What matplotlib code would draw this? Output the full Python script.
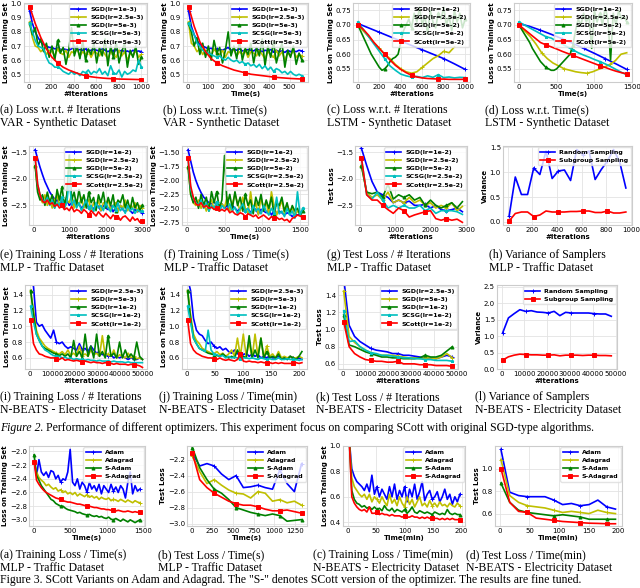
import matplotlib

matplotlib.use("Agg")
import matplotlib.pyplot as plt
import numpy as np

W, H = 640, 588

# ---- Figure 2, row 1: VAR / LSTM synthetic ----
A_SGD1 = [0.95, 0.86, 0.80, 0.76, 0.73, 0.71, 0.70, 0.69, 0.69, 0.68, 0.685, 0.67, 0.68, 0.675, 0.67, 0.68, 0.70, 0.67, 0.675, 0.67, 0.68,
          0.665, 0.67, 0.675, 0.67, 0.665, 0.68, 0.67, 0.66, 0.67, 0.665, 0.675, 0.66, 0.67, 0.66, 0.665, 0.655, 0.67, 0.66, 0.665, 0.66]
A_SGD2 = [0.87, 0.76, 0.70, 0.69, 0.66, 0.68, 0.64, 0.67, 0.66, 0.63, 0.68, 0.65, 0.64, 0.67, 0.62, 0.66, 0.65, 0.68, 0.63, 0.66, 0.64,
          0.67, 0.62, 0.66, 0.65, 0.63, 0.67, 0.64, 0.61, 0.66, 0.64, 0.62, 0.67, 0.63, 0.66, 0.60, 0.65, 0.63, 0.67, 0.62, 0.64]
A_SGD3 = [0.86, 0.78, 0.83, 0.70, 0.75, 0.66, 0.72, 0.62, 0.70, 0.60, 0.74, 0.65, 0.69, 0.57, 0.67, 0.83, 0.63, 0.70, 0.61, 0.74, 0.60,
          0.68, 0.64, 0.72, 0.58, 0.69, 0.63, 0.75, 0.56, 0.70, 0.62, 0.73, 0.58, 0.66, 0.72, 0.55, 0.67, 0.62, 0.70, 0.57, 0.62]
A_SCSG = [0.86, 0.80, 0.74, 0.70, 0.69, 0.68, 0.62, 0.58, 0.57, 0.55, 0.55, 0.54, 0.52, 0.51, 0.50, 0.52, 0.50, 0.51, 0.49, 0.52, 0.51,
          0.53, 0.50, 0.52, 0.51, 0.54, 0.50, 0.52, 0.49, 0.56, 0.51, 0.50, 0.53, 0.48, 0.52, 0.50, 0.51, 0.53, 0.52, 0.60, 0.55]
A_SCOTT = [0.98, 0.86, 0.76, 0.68, 0.62, 0.58, 0.55, 0.53, 0.515, 0.50, 0.49, 0.482, 0.477, 0.473, 0.47, 0.468, 0.466, 0.465, 0.464,
           0.463, 0.462]

B_SGD1 = [0.95, 0.84, 0.78, 0.74, 0.71, 0.70, 0.69, 0.68, 0.685, 0.67, 0.68, 0.675, 0.67, 0.68, 0.69, 0.67, 0.675, 0.67, 0.68, 0.665,
          0.67, 0.675, 0.67, 0.665, 0.68, 0.67, 0.66, 0.67, 0.665, 0.675, 0.66, 0.67, 0.66, 0.665, 0.655, 0.67, 0.66, 0.665, 0.66, 0.67, 0.665]
B_SGD2 = [0.87, 0.72, 0.70, 0.66, 0.68, 0.64, 0.67, 0.65, 0.63, 0.68, 0.65, 0.64, 0.67, 0.62, 0.66, 0.65, 0.68, 0.63, 0.66, 0.64, 0.67,
          0.62, 0.66, 0.65, 0.63, 0.67, 0.64, 0.61, 0.66, 0.64, 0.62, 0.67, 0.63, 0.66, 0.60, 0.65, 0.63, 0.67, 0.62, 0.64, 0.63]
B_SGD3 = [0.86, 0.80, 0.70, 0.76, 0.64, 0.72, 0.62, 0.70, 0.60, 0.74, 0.65, 0.69, 0.58, 0.67, 0.80, 0.63, 0.70, 0.61, 0.74, 0.60, 0.68,
          0.64, 0.72, 0.58, 0.69, 0.63, 0.75, 0.56, 0.70, 0.62, 0.73, 0.58, 0.66, 0.72, 0.55, 0.67, 0.62, 0.70, 0.57, 0.65, 0.60]
B_SCSG = [0.86, 0.82, 0.78, 0.72, 0.70, 0.67, 0.66, 0.65, 0.64, 0.63, 0.62, 0.63, 0.61, 0.60, 0.62, 0.60, 0.59, 0.60, 0.58, 0.59, 0.57,
          0.58, 0.56, 0.57, 0.55, 0.57, 0.54, 0.56, 0.53, 0.55, 0.52, 0.54, 0.53, 0.51, 0.52, 0.50, 0.52, 0.50, 0.49, 0.50, 0.49]
B_SCOTT = [0.98, 0.84, 0.73, 0.66, 0.61, 0.58, 0.56, 0.545, 0.53, 0.52, 0.51, 0.50, 0.495, 0.49, 0.485, 0.48, 0.476, 0.473, 0.47,
           0.468, 0.466]

C_SGD1 = [0.705, 0.69, 0.675, 0.66, 0.645, 0.63, 0.615, 0.60, 0.585, 0.567, 0.548]
C_SGD2 = [0.70, 0.68, 0.66, 0.64, 0.62, 0.60, 0.585, 0.565, 0.55, 0.54, 0.535, 0.54, 0.555, 0.57, 0.585, 0.595, 0.61, 0.605, 0.625]
C_SGD3 = [0.70, 0.68, 0.66, 0.64, 0.62, 0.60, 0.585, 0.57, 0.555, 0.545, 0.55, 0.56, 0.575, 0.585, 0.59, 0.60, 0.64, 0.68, 0.70, 0.72,
          0.69, 0.74, 0.71, 0.76, 0.70, 0.73, 0.67, 0.75, 0.71, 0.69, 0.74, 0.72, 0.76, 0.70, 0.73, 0.68, 0.75, 0.71, 0.74, 0.69, 0.72]
C_SCSG = [0.71, 0.685, 0.66, 0.635, 0.61, 0.585, 0.56, 0.545, 0.532, 0.526, 0.522, 0.524, 0.52, 0.526, 0.521, 0.53, 0.52, 0.522,
          0.519, 0.521, 0.52]
C_SCOTT = [0.70, 0.685, 0.665, 0.64, 0.62, 0.60, 0.58, 0.562, 0.548, 0.537, 0.528, 0.522, 0.519, 0.517, 0.516, 0.515, 0.515, 0.514,
           0.514, 0.514, 0.514]

D_SGD1 = [0.705, 0.695, 0.682, 0.668, 0.653, 0.637, 0.62, 0.603, 0.585, 0.567, 0.548]
D_SGD2 = [0.70, 0.68, 0.66, 0.635, 0.605, 0.585, 0.57, 0.56, 0.55, 0.545, 0.54, 0.537, 0.535, 0.54, 0.548, 0.555, 0.565, 0.578, 0.60,
          0.605]
D_SGD3 = [0.70, 0.685, 0.67, 0.655, 0.64, 0.62, 0.605, 0.59, 0.575, 0.565, 0.555, 0.55, 0.545, 0.545, 0.55, 0.56, 0.57, 0.58, 0.59,
          0.60, 0.63, 0.68, 0.72, 0.70, 0.74, 0.71, 0.73, 0.62, 0.75, 0.71, 0.74, 0.70, 0.76, 0.72, 0.58, 0.74, 0.70, 0.75, 0.72, 0.73, 0.71]
D_SCSG = [0.71, 0.70, 0.69, 0.68, 0.67, 0.66, 0.655, 0.645, 0.635, 0.625, 0.615, 0.605, 0.597, 0.59, 0.582, 0.575, 0.567, 0.558,
          0.548, 0.538, 0.53]
D_SCOTT = [0.70, 0.685, 0.67, 0.655, 0.64, 0.632, 0.625, 0.618, 0.61, 0.603, 0.596, 0.589, 0.582, 0.575, 0.568, 0.561, 0.555, 0.548,
           0.542, 0.537, 0.533]

# ---- Figure 2, row 2: MLP traffic ----
E_SGD1 = [-1.45, -1.62, -1.78, -1.92, -2.05, -2.15, -2.25, -2.32, -2.38, -2.42, -2.35, -2.45, -2.48, -2.4, -2.5, -2.45, -2.52, -2.42,
          -2.48, -2.55, -2.5, -2.45, -2.55, -2.5, -2.58, -2.48, -2.52, -2.6, -2.5, -2.55, -2.58, -2.5, -2.62, -2.55, -2.6, -2.5, -2.58,
          -2.62, -2.55, -2.6, -2.65, -2.58, -2.62, -2.6, -2.65]
E_SGD2 = [-1.75, -2.2, -2.35, -2.45, -2.3, -2.5, -2.38, -2.55, -2.4, -2.3, -2.5, -2.35, -2.55, -2.4, -2.45, -2.3, -2.55, -2.4, -2.5,
          -2.35, -2.55, -2.45, -2.4, -2.6, -2.45, -2.55, -2.4, -2.6, -2.45, -2.5, -2.38, -2.6, -2.5, -2.45, -2.62, -2.5, -2.55, -2.4,
          -2.6, -2.5, -2.55, -2.45, -2.62, -2.5, -2.55]
E_SGD3 = [-1.75, -2.25, -2.4, -2.3, -2.5, -2.25, -2.45, -2.3, -2.55, -2.2, -2.4, -2.15, -2.5, -2.3, -1.55, -2.4, -2.25, -2.5, -2.2,
          -2.45, -2.3, -2.55, -2.25, -2.45, -2.35, -2.6, -2.3, -2.45, -2.25, -2.55, -2.35, -2.5, -2.3, -2.6, -2.4, -2.45, -2.3, -2.55,
          -2.4, -2.6, -2.35, -2.55, -2.45, -2.6, -2.5]
E_SCSG = [-1.6, -2.1, -2.3, -2.4, -2.45, -2.35, -2.5, -2.4, -2.55, -2.45, -2.5, -2.35, -2.55, -2.45, -2.0, -2.5, -2.4, -2.55, -2.45,
          -2.6, -2.5, -2.4, -2.55, -2.5, -2.62, -2.45, -2.55, -2.5, -2.6, -2.45, -2.55, -2.62, -2.5, -2.58, -2.45, -2.6, -2.55, -2.65,
          -2.5, -2.6, -2.55, -2.65, -2.58, -2.62, -2.6]
E_SCOTT = [-1.6, -2.1, -2.3, -2.42, -2.45, -2.4, -2.48, -2.45, -2.52, -2.48, -2.55, -2.5, -2.58, -2.55, -2.6, -2.52, -2.62, -2.58,
           -2.6, -2.65, -2.58, -2.62, -2.68, -2.6, -2.65, -2.7, -2.62, -2.68, -2.72, -2.65, -2.7, -2.75, -2.68, -2.72, -2.7, -2.78,
           -2.72, -2.7, -2.75, -2.8, -2.72, -2.78, -2.75, -2.82, -2.8]

F_SGD1 = [-1.45, -1.65, -1.85, -2.0, -2.12, -2.22, -2.3, -2.35, -2.4, -2.42, -2.38, -2.45, -2.48, -2.42, -2.5, -2.45, -2.52, -2.45,
          -2.5, -2.55, -2.5, -2.48, -2.55, -2.5, -2.58, -2.5, -2.52, -2.6, -2.52, -2.55, -2.58, -2.52, -2.62, -2.55, -2.6, -2.55, -2.58,
          -2.62, -2.58, -2.6, -2.65, -2.6, -2.62, -2.6, -2.65]
F_SGD2 = [-1.75, -2.25, -2.4, -2.45, -2.35, -2.5, -2.4, -2.55, -2.42, -2.35, -2.52, -2.38, -2.55, -2.42, -2.48, -2.3, -2.55, -2.42,
          -2.25, -2.4, -2.55, -2.3, -2.5, -2.6, -2.2, -2.55, -2.4, -2.62, -2.3, -2.5, -2.38, -2.62, -2.2, -2.45, -2.62, -2.5, -2.35,
          -2.6, -2.45, -2.55, -2.5, -2.62, -2.55, -2.6, -2.65]
F_SGD3 = [-1.75, -2.25, -2.4, -2.3, -2.5, -2.25, -2.45, -2.3, -2.55, -2.2, -2.4, -2.2, -2.5, -2.35, -1.55, -2.45, -2.25, -2.5, -2.2,
          -2.45, -2.3, -2.55, -2.25, -2.45, -2.35, -2.6, -2.3, -2.45, -2.25, -2.55, -2.35, -2.5, -2.3, -2.6, -2.4, -2.45, -2.3, -2.55,
          -2.4, -2.6, -2.45, -2.55, -2.5, -2.62, -2.55]
F_SCSG = [-1.6, -2.15, -2.32, -2.4, -2.45, -2.35, -2.5, -2.4, -2.55, -2.45, -2.5, -2.38, -2.55, -2.45, -2.5, -2.52, -2.42, -2.55,
          -2.48, -2.6, -2.5, -2.42, -2.55, -2.5, -2.62, -2.45, -2.55, -2.5, -2.6, -2.45, -2.55, -2.62, -2.5, -2.58, -2.3, -2.6, -2.55,
          -2.65, -2.5, -2.62, -2.55, -2.68, -2.2, -2.62, -2.5]
F_SCOTT = [-1.6, -2.1, -2.3, -2.42, -2.45, -2.4, -2.48, -2.45, -2.5, -2.48, -2.52, -2.5, -2.55, -2.52, -2.55, -2.5, -2.58, -2.55,
           -2.6, -2.62, -2.58, -2.6, -2.65, -2.6, -2.62, -2.65, -2.62, -2.68, -2.65, -2.62, -2.66, -2.7, -2.65, -2.68, -2.66, -2.7,
           -2.68, -2.72, -2.7, -2.75, -2.68, -2.66, -2.62, -2.64, -2.66]

G_SGD1 = [-1.42, -1.75, -2.05, -2.25, -2.3, -2.35, -2.45, -2.4, -2.45, -2.42, -2.5, -2.5, -2.48, -2.55, -2.5, -2.58, -2.6, -2.58,
          -2.55, -2.62]
G_SGD2 = [-1.75, -2.25, -2.35, -2.3, -2.4, -2.25, -2.45, -2.4, -2.45, -2.35, -2.45, -2.4, -2.5, -2.45, -2.55, -2.5, -2.55, -2.45,
          -2.6, -2.52]
G_SGD3 = [-1.75, -2.25, -2.28, -2.25, -2.35, -2.1, -2.38, -2.3, -2.35, -2.3, -2.4, -2.35, -2.5, -2.4, -2.5, -2.55, -2.5, -2.45,
          -2.55, -2.43]
G_SCSG = [-1.6, -2.3, -2.38, -2.25, -2.4, -2.55, -2.5, -2.55, -2.5, -2.55, -2.55, -2.5, -2.6, -2.55, -2.65, -2.6, -2.6, -2.6,
          -2.62, -2.67]
G_SCOTT = [-1.6, -2.3, -2.4, -2.4, -2.5, -2.58, -2.65, -2.55, -2.6, -2.72, -2.68, -2.65, -2.62, -2.6, -2.75, -2.78, -2.75, -2.78,
           -2.76, -2.82]

H_RANDOM = [0.12, 0.9, 0.55, 0.55, 1.08, 0.95, 1.42, 0.87, 1.02, 1.04, 0.83, 1.45, 1.35, 1.42, 0.85, 1.05, 1.22, 1.45, 1.2, 0.68]
H_SUBGROUP = [0.02, 0.17, 0.2, 0.2, 0.11, 0.14, 0.22, 0.2, 0.2, 0.2, 0.21, 0.21, 0.22, 0.22, 0.19, 0.19, 0.22, 0.18, 0.18, 0.2]

# ---- Figure 2, row 3: N-BEATS electricity ----
I_SGD1 = [1.6, 1.5, 1.05, 1.0, 1.02, 0.95, 0.9, 0.85, 0.95, 0.8, 0.78, 0.8, 0.75, 0.72, 0.74, 0.72, 0.7, 0.78, 0.7, 0.72, 0.68, 0.75,
          0.7, 0.66, 0.68, 0.64, 0.66, 0.62, 0.64, 0.6, 0.62, 0.6, 0.62, 0.6, 0.58, 0.6, 0.59, 0.58, 0.6, 0.58]
I_SGD2 = [1.45, 1.2, 0.95, 0.85, 0.8, 0.75, 0.72, 0.7, 0.68, 0.66, 0.65, 0.68, 0.64, 0.7, 0.63, 0.66, 0.62, 0.75, 0.63, 0.65, 0.62,
          0.7, 0.64, 0.66, 0.62, 0.88, 0.63, 0.65, 0.62, 0.7, 0.6, 0.64, 0.62, 0.6, 0.66, 0.6, 0.62, 0.59, 0.6, 0.58]
I_SGD3 = [1.45, 1.15, 0.9, 0.82, 0.75, 0.72, 0.7, 0.68, 0.66, 0.65, 0.63, 0.65, 0.62, 0.65, 0.6, 0.82, 0.62, 0.68, 0.6, 0.9, 0.62,
          0.75, 0.6, 0.9, 0.62, 0.68, 0.6, 0.88, 0.62, 0.66, 0.6, 0.8, 0.6, 0.7, 0.6, 0.65, 0.6, 0.8, 0.62, 0.58]
I_SCSG = [1.25, 1.05, 0.9, 0.82, 0.75, 0.7, 0.68, 0.65, 0.63, 0.62, 0.62, 0.6, 0.61, 0.59, 0.6, 0.58, 0.59, 0.58, 0.58, 0.57, 0.58,
          0.57, 0.57, 0.56, 0.57, 0.56, 0.56, 0.56, 0.55, 0.56, 0.55, 0.55, 0.55, 0.54, 0.55, 0.54, 0.54, 0.54, 0.54, 0.54]
I_SCOTT = [1.08, 0.78, 0.7, 0.65, 0.64, 0.62, 0.61, 0.6, 0.6, 0.59, 0.58, 0.6, 0.57, 0.58, 0.57, 0.56, 0.57, 0.56, 0.55, 0.56, 0.55,
           0.54, 0.55, 0.54, 0.54, 0.53, 0.54, 0.53, 0.53, 0.52, 0.53, 0.52, 0.52, 0.52, 0.51, 0.52, 0.51, 0.51, 0.5, 0.48]

J_SGD1 = [1.6, 1.45, 1.1, 0.95, 0.9, 0.88, 0.82, 0.78, 0.8, 0.75, 0.72, 0.74, 0.7, 0.72, 0.68, 0.66, 0.7, 0.65, 0.68, 0.64, 0.66,
          0.62, 0.65, 0.62, 0.64, 0.6, 0.62, 0.6, 0.62, 0.6, 0.6, 0.62, 0.6, 0.6, 0.58, 0.62, 0.6, 0.58, 0.6, 0.58]
J_SGD2 = [1.45, 1.15, 0.9, 0.82, 0.78, 0.72, 0.7, 0.68, 0.66, 0.65, 0.68, 0.64, 0.66, 0.62, 0.65, 0.7, 0.62, 0.85, 0.62, 0.9, 0.62,
          0.8, 0.6, 0.9, 0.62, 0.85, 0.6, 0.75, 0.62, 0.65, 0.6, 0.68, 0.6, 0.62, 0.6, 0.62, 0.6, 0.6, 0.62, 0.6]
J_SGD3 = [1.45, 1.1, 0.85, 0.78, 0.72, 0.7, 0.68, 0.66, 0.65, 0.64, 0.63, 0.62, 0.65, 0.62, 0.6, 0.62, 0.6, 0.7, 0.6, 0.62, 0.6,
          0.88, 0.6, 0.7, 0.6, 0.85, 0.6, 0.68, 0.6, 0.62, 0.6, 0.65, 0.58, 0.6, 0.58, 0.62, 0.6, 0.58, 0.62, 0.68]
J_SCSG = [1.25, 1.05, 0.85, 0.78, 0.72, 0.7, 0.68, 0.95, 0.7, 0.65, 0.64, 0.62, 0.63, 0.6, 0.62, 0.6, 0.61, 0.6, 0.59, 0.6, 0.6,
          0.59, 0.6, 0.59, 0.58, 0.6, 0.59, 0.58, 0.59, 0.58, 0.58, 0.6, 0.58, 0.58, 0.59, 0.58, 0.58, 0.58, 0.57, 0.58]
J_SCOTT = [1.08, 0.78, 0.7, 0.66, 0.64, 0.62, 0.61, 0.6, 0.6, 0.59, 0.58, 0.6, 0.58, 0.57, 0.58, 0.57, 0.56, 0.58, 0.65, 0.56, 0.55,
           0.56, 0.55, 0.55, 0.54, 0.55, 0.54, 0.54, 0.54, 0.53, 0.54, 0.53, 0.54, 0.53, 0.53, 0.53, 0.53, 0.54, 0.53, 0.54]

K_SGD1 = [1.6, 1.05, 0.92, 0.86, 0.82, 0.78, 0.76, 0.75, 0.74, 0.72, 0.72, 0.7, 0.7, 0.69, 0.68, 0.67, 0.67, 0.66, 0.68, 0.7, 0.68]
K_SGD2 = [1.45, 0.92, 0.85, 0.8, 0.76, 0.73, 0.71, 0.7, 0.7, 0.7, 0.69, 0.68, 0.67, 0.67, 0.66, 0.67, 0.67, 0.66, 0.68, 0.72, 0.67]
K_SGD3 = [1.17, 0.82, 0.8, 0.77, 0.74, 0.72, 0.7, 0.68, 0.68, 0.67, 0.67, 0.66, 0.66, 0.66, 0.67, 0.7, 0.68, 0.68, 0.7, 0.75, 0.8]
K_SCSG = [1.22, 0.86, 0.87, 0.8, 0.76, 0.73, 0.72, 0.7, 0.7, 0.69, 0.68, 0.67, 0.67, 0.66, 0.66, 0.65, 0.65, 0.64, 0.64, 0.64, 0.63]
K_SCOTT = [1.09, 0.8, 0.72, 0.68, 0.65, 0.64, 0.63, 0.63, 0.62, 0.62, 0.63, 0.6, 0.6, 0.6, 0.59, 0.59, 0.59, 0.58, 0.58, 0.58, 0.57]

L_RANDOM = [1.1, 1.55, 1.68, 1.8, 1.75, 1.77, 1.73, 1.72, 1.7, 1.75, 1.62, 1.72, 1.7, 1.7, 1.7, 1.7, 1.68, 1.67, 1.67, 1.6]
L_SUBGROUP = [0.27, 0.37, 0.42, 0.45, 0.44, 0.43, 0.43, 0.42, 0.42, 0.43, 0.4, 0.42, 0.42, 0.42, 0.41, 0.42, 0.42, 0.41, 0.41, 0.4]

# ---- Figure 3: Adam / Adagrad variants ----
P_ADAM = [-2.15, -2.35, -2.12, -2.3, -2.35, -2.3, -2.38, -2.28, -2.3, -2.4, -2.35, -2.45, -2.4, -2.42, -2.3, -1.97, -2.45, -2.5,
          -2.4, -2.55, -2.45, -2.5, -2.6, -2.45, -2.55, -2.5, -2.58, -2.48, -2.62, -2.5, -2.55, -2.6, -2.48, -2.58, -2.52, -2.6, -2.5,
          -2.55, -2.68, -2.45, -2.3, -2.62, -2.5, -2.58, -2.55]
P_ADAGRAD = [-2.15, -2.3, -2.38, -2.42, -2.45, -2.5, -2.48, -2.52, -2.55, -2.53, -2.58, -2.56, -2.6, -2.58, -2.62, -2.6, -2.63, -2.6,
             -2.65, -2.62, -2.64, -2.66, -2.63, -2.67, -2.65, -2.68, -2.66, -2.7, -2.67, -2.69, -2.7, -2.68, -2.72, -2.7, -2.71,
             -2.73, -2.7, -2.72, -2.74, -2.71, -2.73, -2.75, -2.72, -2.74, -2.75]
P_SADAM = [-2.05, -2.35, -2.42, -2.5, -2.55, -2.6, -2.65, -2.7, -2.72, -2.76, -2.78, -2.8, -2.8, -2.83, -2.85, -2.86, -2.87, -2.88,
           -2.9, -2.89, -2.91, -2.92, -2.93, -2.92, -2.94, -2.95, -2.94, -2.96, -2.95, -2.97, -2.98, -2.96, -2.99, -3.0, -2.98, -3.0,
           -3.02, -2.99, -3.01, -3.03, -3.0, -3.02, -3.04, -3.02, -3.0]
P_SADAGRAD = [-2.15, -2.42, -2.48, -2.53, -2.57, -2.6, -2.62, -2.64, -2.66, -2.68, -2.69, -2.7, -2.72, -2.73, -2.74, -2.74, -2.75,
              -2.76, -2.77, -2.77, -2.78, -2.79, -2.8, -2.8, -2.81, -2.82, -2.82, -2.83, -2.84, -2.84, -2.85, -2.85, -2.86, -2.86,
              -2.87, -2.86, -2.87, -2.88, -2.88, -2.87, -2.88, -2.89, -2.88, -2.89, -2.88]

Q_ADAM = [-2.12, -2.28, -2.25, -2.28, -2.38, -2.45, -2.4, -2.55, -2.54, -2.52, -2.55, -2.57, -2.33, -2.5, -2.6, -2.25]
Q_ADAGRAD = [-2.15, -2.35, -2.5, -2.45, -2.52, -2.58, -2.62, -2.63, -2.68, -2.6, -2.62, -2.72, -2.7, -2.74, -2.72, -2.77]
Q_SADAM = [-2.05, -2.3, -2.45, -2.57, -2.62, -2.7, -2.8, -2.83, -2.86, -2.88, -2.9, -2.88, -2.9, -2.97, -2.96, -2.95]
Q_SADAGRAD = [-2.12, -2.45, -2.55, -2.62, -2.67, -2.72, -2.75, -2.77, -2.77, -2.79, -2.82, -2.84, -2.84, -2.83, -2.85, -2.87]

R_ADAM = [1.05, 0.82, 0.76, 0.72, 0.7, 0.68, 0.65, 0.7, 0.64, 0.77, 0.62, 0.68, 0.6, 0.66, 0.62, 0.58, 0.68, 0.6, 0.7, 0.58, 0.65,
          0.6, 0.68, 0.56, 0.66, 0.6, 0.7, 0.58, 0.64, 0.72, 0.57, 0.62, 0.65, 0.58, 0.6, 0.64, 0.56, 0.6, 0.66, 0.58, 0.62, 0.54,
          0.6, 0.56, 0.62]
R_ADAGRAD = [1.05, 0.75, 0.68, 0.65, 0.62, 0.6, 0.62, 0.58, 0.62, 0.56, 0.6, 0.58, 0.55, 0.6, 0.56, 0.53, 0.62, 0.55, 0.58, 0.53,
             0.6, 0.55, 0.52, 0.6, 0.54, 0.58, 0.52, 0.56, 0.6, 0.53, 0.55, 0.52, 0.57, 0.53, 0.55, 0.52, 0.56, 0.53, 0.54, 0.52,
             0.55, 0.53, 0.52, 0.55, 0.53]
R_SADAM = [1.05, 0.65, 0.58, 0.55, 0.54, 0.52, 0.53, 0.51, 0.52, 0.5, 0.52, 0.5, 0.51, 0.49, 0.53, 0.5, 0.49, 0.51, 0.48, 0.5, 0.49,
           0.48, 0.5, 0.47, 0.49, 0.52, 0.48, 0.47, 0.49, 0.48, 0.47, 0.48, 0.47, 0.46, 0.48, 0.47, 0.46, 0.47, 0.46, 0.5, 0.47,
           0.46, 0.47, 0.46, 0.46]
R_SADAGRAD = [1.05, 0.6, 0.55, 0.52, 0.5, 0.49, 0.5, 0.48, 0.52, 0.47, 0.47, 0.48, 0.46, 0.47, 0.46, 0.46, 0.45, 0.46, 0.45, 0.45,
              0.45, 0.44, 0.45, 0.44, 0.44, 0.45, 0.44, 0.44, 0.43, 0.44, 0.43, 0.44, 0.43, 0.43, 0.43, 0.43, 0.42, 0.43, 0.42,
              0.43, 0.42, 0.43, 0.42, 0.42, 0.42]

S_ADAM = [1.17, 0.79, 0.76, 0.75, 0.75, 0.75, 0.72, 0.68, 0.69, 0.67, 0.68, 0.72, 0.66, 0.64]
S_ADAGRAD = [1.08, 0.76, 0.7, 0.67, 0.66, 0.65, 0.63, 0.61, 0.62, 0.61, 0.6, 0.63, 0.61, 0.6]
S_SADAM = [0.87, 0.7, 0.63, 0.61, 0.6, 0.59, 0.58, 0.59, 0.58, 0.57, 0.55, 0.55, 0.55, 0.55]
S_SADAGRAD = [1.0, 0.7, 0.62, 0.61, 0.56, 0.55, 0.54, 0.53, 0.525, 0.52, 0.515, 0.513, 0.51, 0.51]

SGD_COLORS = ["#0000ff", "#bfbf00", "#008000", "#00bfbf", "#ff0000"]
SGD_MARKERS = ["+", "+", "^", "*", "s"]
OPT_COLORS = ["#0000ff", "#bfbf00", "#008000", "#ff0000"]
OPT_MARKERS = ["+", "+", "^", "s"]
OPT_LABELS = ["Adam", "Adagrad", "S-Adam", "S-Adagrad"]
SAMPLER_LABELS = ["Random Sampling", "Subgroup Sampling"]

CAP_SIZE = 8.5

plt.rcParams.update({
    "font.family": "DejaVu Sans",
    "axes.edgecolor": "#cccccc",
    "axes.linewidth": 0.8,
    "axes.grid": True,
    "grid.color": "#e3e3e3",
    "grid.linewidth": 0.6,
    "xtick.major.size": 0,
    "ytick.major.size": 0,
    "xtick.major.pad": 1.5,
    "ytick.major.pad": 1.5,
    "xtick.labelsize": 5,
    "ytick.labelsize": 5,
})

fig = plt.figure(figsize=(W / 100, H / 100), dpi=100)


def px_axes(l, t, r, b):
    return fig.add_axes([l / W, 1 - b / H, (r - l) / W, (b - t) / H])


def panel(box, x_range, series, colors, markers, labels, xlabel, ylabel, xticks, yticks, xlim, ylim):
    ax = px_axes(*box)
    for vals, c, m, lab in zip(series, colors, markers, labels):
        x = np.linspace(x_range[0], x_range[1], len(vals))
        step = max(1, (len(vals) - 1) // 4)
        ax.plot(x, vals, color=c, lw=1.2, marker=m, ms=2.2, mew=0.7, markevery=step, label=lab)
    ax.set_xticks(xticks)
    ax.set_yticks(yticks)
    ax.set_xlim(*xlim)
    ax.set_ylim(*ylim)
    ax.set_xlabel(xlabel, fontsize=5, fontweight="bold", labelpad=0.5)
    ax.set_ylabel(ylabel, fontsize=5, fontweight="bold", labelpad=1)
    ax.legend(loc="upper right", prop={"size": 4.5, "weight": "bold"}, handlelength=2.4, labelspacing=0.45,
              borderpad=0.35, borderaxespad=0.2, handletextpad=0.7, edgecolor="#dddddd", fancybox=True)
    return ax


def caption(x, y, line1, line2):
    fig.text(x / W, 1 - y / H, line1, family="Liberation Serif", fontsize=CAP_SIZE, va="center")
    fig.text(x / W, 1 - (y + 13) / H, line2, family="Liberation Serif", fontsize=CAP_SIZE, va="center")


LOSS = "Loss on Training Set"
sgd = lambda lrs, sc: ["SGD(lr=%s)" % lrs[0], "SGD(lr=%s)" % lrs[1], "SGD(lr=%s)" % lrs[2],
                       "SCSG(lr=%s)" % sc, "SCott(lr=%s)" % sc]

# row 1
lab = sgd(["1e-3", "2.5e-3", "5e-3"], "5e-3")
panel((24, 3, 147, 82), (10, 1000), [A_SGD1, A_SGD2, A_SGD3, A_SCSG, A_SCOTT], SGD_COLORS, SGD_MARKERS, lab,
      "#Iterations", LOSS, range(0, 1001, 200), [0.5, 0.6, 0.7, 0.8, 0.9, 1.0], (-40, 1050), (0.445, 1.005))
panel((183, 3, 308, 82), (5, 560), [B_SGD1, B_SGD2, B_SGD3, B_SCSG, B_SCOTT], SGD_COLORS, SGD_MARKERS, lab,
      "Time(s)", LOSS, range(0, 501, 100), [0.5, 0.6, 0.7, 0.8, 0.9, 1.0], (-22, 590), (0.445, 1.005))
lab = sgd(["1e-2", "2.5e-2", "5e-2"], "5e-2")
ax_c = panel((353, 3, 470, 82), (0, 1000), [C_SGD1, C_SGD2, C_SGD3, C_SCSG, C_SCOTT], SGD_COLORS, SGD_MARKERS, lab,
             "#Iterations", LOSS, range(0, 1001, 200), [0.55, 0.60, 0.65, 0.70, 0.75], (-45, 1045), (0.505, 0.775))
ax_c.lines[1].set_xdata(np.linspace(0, 900, len(C_SGD2)))
panel((514, 3, 632, 82), (0, 1430), [D_SGD1, D_SGD2, D_SGD3, D_SCSG, D_SCOTT], SGD_COLORS, SGD_MARKERS, lab,
      "Time(s)", LOSS, [0, 500, 1000, 1500], [0.55, 0.60, 0.65, 0.70, 0.75], (-65, 1500), (0.505, 0.775))
caption(0, 110, "(a) Loss w.r.t. # Iterations", "VAR - Synthetic Dataset")
caption(163, 110, "(b) Loss w.r.t. Time(s)", "VAR - Synthetic Dataset")
caption(327, 110, "(c) Loss w.r.t. # Iterations", "LSTM - Synthetic Dataset")
caption(485, 110, "(d) Loss w.r.t. Time(s)", "LSTM - Synthetic Dataset")

# row 2
lab = sgd(["1e-2", "2.5e-2", "5e-2"], "2.5e-2")
panel((29, 146, 147, 225), (50, 3000), [E_SGD1, E_SGD2, E_SGD3, E_SCSG, E_SCOTT], SGD_COLORS, SGD_MARKERS, lab,
      "#Iterations", LOSS, range(0, 3001, 1000), [-2.5, -2.0, -1.5], (-120, 3130), (-2.87, -1.38))
panel((182, 146, 308, 225), (20, 1530), [F_SGD1, F_SGD2, F_SGD3, F_SCSG, F_SCOTT], SGD_COLORS, SGD_MARKERS, lab,
      "Time(s)", LOSS, [0, 500, 1000, 1500], [-2.75, -2.5, -2.25, -2.0, -1.75, -1.5], (-60, 1600), (-2.8, -1.38))
panel((355, 146, 467, 225), (50, 2900), [G_SGD1, G_SGD2, G_SGD3, G_SCSG, G_SCOTT], SGD_COLORS, SGD_MARKERS, lab,
      "#Iterations", "Test Loss", range(0, 3001, 1000), [-2.5, -2.0, -1.5], (-130, 3030), (-2.87, -1.38))
panel((503, 146, 632, 225), (10, 960), [H_RANDOM, H_SUBGROUP], ["#0000ff", "#ff0000"], ["+", "s"], SAMPLER_LABELS,
      "#Iterations", "Variance", range(0, 1001, 200), [0.0, 0.5, 1.0, 1.5], (-40, 1010), (-0.06, 1.52))
caption(0, 255, "(e) Training Loss / # Iterations", "MLP - Traffic Dataset")
caption(164, 255, "(f) Training Loss / Time(s)", "MLP - Traffic Dataset")
caption(327, 255, "(g) Test Loss / # Iterations", "MLP - Traffic Dataset")
caption(489, 255, "(h) Variance of Samplers", "MLP - Traffic Dataset")

# row 3
lab = sgd(["2.5e-3", "5e-3", "1e-2"], "1e-2")
panel((25, 285, 147, 369), (500, 50000), [I_SGD1, I_SGD2, I_SGD3, I_SCSG, I_SCOTT], SGD_COLORS, SGD_MARKERS, lab,
      "#Iterations", LOSS, range(0, 50001, 10000), [0.6, 0.8, 1.0, 1.2, 1.4], (-2000, 52000), (0.46, 1.52))
panel((182, 285, 307, 369), (2, 205), [J_SGD1, J_SGD2, J_SGD3, J_SCSG, J_SCOTT], SGD_COLORS, SGD_MARKERS, lab,
      "Time(min)", LOSS, range(0, 201, 50), [0.6, 0.8, 1.0, 1.2, 1.4], (-8, 214), (0.46, 1.52))
panel((338, 285, 458, 369), (500, 48000), [K_SGD1, K_SGD2, K_SGD3, K_SCSG, K_SCOTT], SGD_COLORS, SGD_MARKERS, lab,
      "#Iterations", "Test Loss", range(0, 50001, 10000), [0.6, 0.8, 1.0, 1.2, 1.4], (-2000, 50500), (0.54, 1.52))
panel((497, 285, 617, 369), (500, 48000), [L_RANDOM, L_SUBGROUP], ["#0000ff", "#ff0000"], ["+", "s"], SAMPLER_LABELS,
      "#Iterations", "Variance", range(0, 50001, 10000), [0.0, 0.5, 1.0, 1.5, 2.0, 2.5], (-2000, 50500), (0.0, 2.55))
caption(0, 397, "(i) Training Loss / # Iterations", "N-BEATS - Electricity Dataset")
caption(159, 397, "(j) Training Loss / Time(min)", "N-BEATS - Electricity Dataset")
caption(316, 397, "(k) Test Loss / # Iterations", "N-BEATS - Electricity Dataset")
caption(475, 397, "(l) Variance of Samplers", "N-BEATS - Electricity Dataset")

t2 = fig.text(0, 1 - 428 / H, "Figure 2.", family="Liberation Serif", style="italic", fontsize=CAP_SIZE, va="center")
r = fig.canvas.get_renderer()
x2 = t2.get_window_extent(r).x1
fig.text(x2 / W + 2.5 / W, 1 - 428 / H,
         "Performance of different optimizers. This experiment focus on comparing SCott with original SGD-type algorithms.",
         family="Liberation Serif", fontsize=CAP_SIZE, va="center")

# row 4 (Figure 3)
panel((29, 446, 145, 526), (10, 1450), [P_ADAM, P_ADAGRAD, P_SADAM, P_SADAGRAD], OPT_COLORS, OPT_MARKERS, OPT_LABELS,
      "Time(s)", LOSS, [0, 500, 1000, 1500], [-3.0, -2.8, -2.6, -2.4, -2.2, -2.0], (-60, 1520), (-3.09, -1.92))
panel((187, 446, 307, 526), (10, 1330), [Q_ADAM, Q_ADAGRAD, Q_SADAM, Q_SADAGRAD], OPT_COLORS, OPT_MARKERS, OPT_LABELS,
      "Time(s)", "Test Loss", [0, 250, 500, 750, 1000, 1250], [-3.0, -2.8, -2.6, -2.4, -2.2], (-55, 1395), (-3.03, -2.03))
panel((343, 446, 465, 526), (3, 197), [R_ADAM, R_ADAGRAD, R_SADAM, R_SADAGRAD], OPT_COLORS, OPT_MARKERS, OPT_LABELS,
      "Time(min)", LOSS, range(0, 201, 50), [0.4, 0.6, 0.8, 1.0], (-8, 206), (0.37, 1.0))
panel((495, 446, 622, 526), (2, 195), [S_ADAM, S_ADAGRAD, S_SADAM, S_SADAGRAD], OPT_COLORS, OPT_MARKERS, OPT_LABELS,
      "Time(min)", "Test Loss", range(0, 201, 50), [0.6, 0.8, 1.0], (-8, 206), (0.49, 1.2))
caption(0, 555, "(a) Training Loss / Time(s)", "MLP - Traffic Dataset")
caption(158, 555, "(b) Test Loss / Time(s)", "MLP - Traffic Dataset")
caption(313, 555, "(c) Training Loss / Time(min)", "N-BEATS - Electricity Dataset")
caption(466, 555, "(d) Test Loss / Time(min)", "N-BEATS - Electricity Dataset")

fig.text(0, 1 - 586.5 / H,
         'Figure 3. SCott Variants on Adam and Adagrad. The "S-" denotes SCott version of the optimizer. The results are fine tuned.',
         family="Liberation Serif", fontsize=CAP_SIZE, va="bottom")

fig.savefig("out.png", dpi=100)
